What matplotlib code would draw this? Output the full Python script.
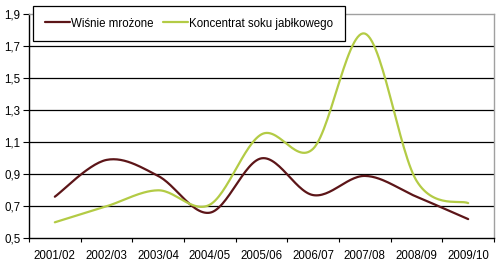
import numpy as np
import matplotlib
matplotlib.use("Agg")
import matplotlib.pyplot as plt

seasons = ["2001/02", "2002/03", "2003/04", "2004/05", "2005/06",
           "2006/07", "2007/08", "2008/09", "2009/10"]
wisnie = [0.76, 0.99, 0.89, 0.66, 1.00, 0.77, 0.89, 0.76, 0.62]
koncentrat = [0.60, 0.70, 0.80, 0.71, 1.15, 1.06, 1.78, 0.86, 0.72]
yticks = [0.5, 0.7, 0.9, 1.1, 1.3, 1.5, 1.7, 1.9]

RED = "#5c1518"
GREEN = "#b3cb45"


def smooth(xs, ys, n=30):
    # Excel-style smoothed line: cubic bezier with catmull-rom control points
    xs = np.asarray(xs, float)
    ys = np.asarray(ys, float)
    px = np.concatenate([[xs[0]], xs, [xs[-1]]])
    py = np.concatenate([[ys[0]], ys, [ys[-1]]])
    outx, outy = [], []
    t = np.linspace(0, 1, n)
    for i in range(1, len(px) - 2):
        p0 = np.array([px[i], py[i]])
        p3 = np.array([px[i + 1], py[i + 1]])
        c1 = p0 + (np.array([px[i + 1], py[i + 1]]) - np.array([px[i - 1], py[i - 1]])) / 6
        c2 = p3 - (np.array([px[i + 2], py[i + 2]]) - np.array([px[i], py[i]])) / 6
        b = ((1 - t) ** 3)[:, None] * p0 + (3 * (1 - t) ** 2 * t)[:, None] * c1 \
            + (3 * (1 - t) * t ** 2)[:, None] * c2 + (t ** 3)[:, None] * p3
        outx.extend(b[:, 0])
        outy.extend(b[:, 1])
    return outx, outy


plt.rcParams["font.family"] = ["Liberation Sans", "DejaVu Sans"]

fig = plt.figure(figsize=(5.0, 2.61), dpi=100)
ax = fig.add_axes([0.058, 0.087, 0.930, 0.858])

x = np.arange(len(seasons))
for vals, col, lab in [(wisnie, RED, "Wiśnie mrożone"),
                       (koncentrat, GREEN, "Koncentrat soku jabłkowego")]:
    sx, sy = smooth(x, vals)
    ax.plot(sx, sy, color=col, lw=1.6, label=lab, solid_capstyle="round")

ax.set_xlim(-0.5, len(seasons) - 0.5)
ax.set_ylim(0.5, 1.9)

ax.set_yticks(yticks)
ax.set_yticklabels([f"{v:.1f}".replace(".", ",") for v in yticks])
for v in yticks[1:-1]:
    ax.axhline(v, color="black", lw=0.9, zorder=0)

ax.set_xticks(np.arange(-0.5, len(seasons)), minor=False)
ax.set_xticklabels([])
ax.set_xticks(x, minor=True)
ax.set_xticklabels(seasons, minor=True)
ax.tick_params(axis="x", which="major", length=3, width=0.8, direction="out")
ax.tick_params(axis="x", which="minor", length=0, pad=8.5, labelsize=8.3)
ax.tick_params(axis="y", length=4, width=0.8, pad=2, labelsize=8.3)

ax.spines["left"].set_color("black")
ax.spines["bottom"].set_color("black")
ax.spines["top"].set_color("#a0a0a0")
ax.spines["right"].set_color("#a0a0a0")
for s in ax.spines.values():
    s.set_linewidth(1.0)

leg = ax.legend(loc="upper left", bbox_to_anchor=(33 / 500, 1 - 6 / 261),
                bbox_transform=fig.transFigure, ncol=2, fontsize=8.3,
                frameon=True, fancybox=False, borderpad=1.0,
                handlelength=2.2, handletextpad=0.1, columnspacing=0.8,
                borderaxespad=0)
leg.get_frame().set_edgecolor("black")
leg.get_frame().set_linewidth(0.9)
leg.get_frame().set_alpha(1)

fig.savefig("out.png", dpi=100)
